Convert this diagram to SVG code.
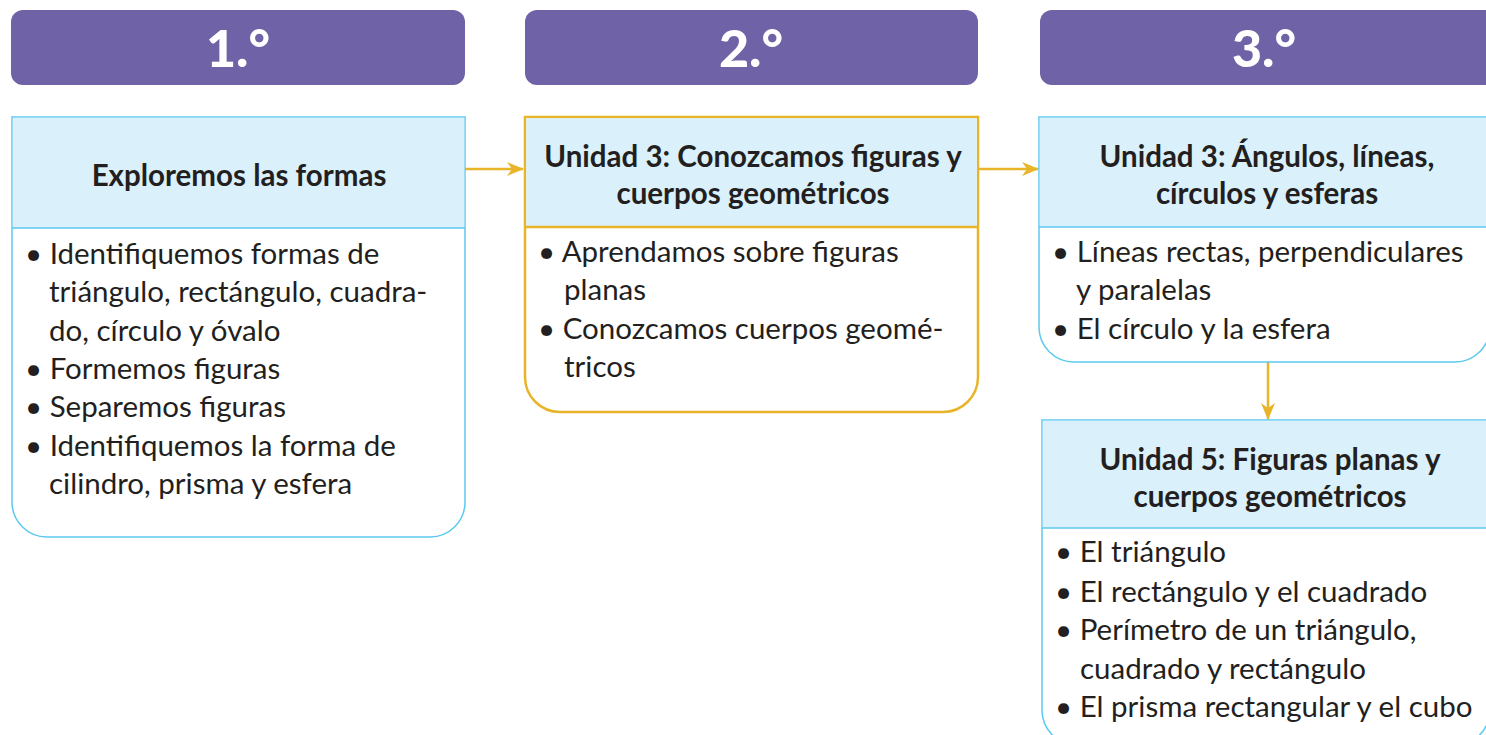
<svg xmlns="http://www.w3.org/2000/svg" width="1486" height="735" viewBox="0 0 1486 735">
<style>
.hdr{fill:#6F62A6}
.ht{font-family:Lato,"Open Sans",sans-serif;font-weight:900;font-size:52px;fill:#fff;text-anchor:middle}
.box{fill:#fff;stroke:#5CC9EF;stroke-width:1.5}
.boxg{fill:#fff;stroke:#E8B52A;stroke-width:2.5}
.hb{fill:#DAF0FB}
.t{font-family:Lato,"Liberation Sans",sans-serif;font-size:29.5px;fill:#231F20}
.b{font-weight:bold;text-anchor:middle;font-size:29.5px}
.c{fill:none;stroke:#E8B52A;stroke-width:2.5}
</style>
<defs>
<marker id="ah" markerWidth="17" markerHeight="14" refX="16" refY="7" orient="auto" markerUnits="userSpaceOnUse" viewBox="0 0 17 14">
<path d="M0,0 L17,7 L0,14 L5,7 z" fill="#E8B52A"/>
</marker>
</defs>
<g id="h1"><rect class="hdr" x="11" y="10" width="454" height="75" rx="12"/><text class="ht" x="238" y="67">1.°</text></g>
<g id="h2"><rect class="hdr" x="525" y="10" width="453" height="75" rx="12"/><text class="ht" x="751" y="67">2.°</text></g>
<g id="h3"><rect class="hdr" x="1040" y="10" width="470" height="75" rx="12"/><text class="ht" x="1264" y="67">3.°</text></g>

<g id="connectors">
<line class="c" x1="465" y1="169" x2="523" y2="169" marker-end="url(#ah)"/>
<line class="c" x1="979" y1="169" x2="1038" y2="169" marker-end="url(#ah)"/>
<line class="c" x1="1268" y1="362" x2="1268" y2="419" marker-end="url(#ah)"/>
</g>

<g id="n1">
<path class="box" d="M12,117 H465 V502 A35,35 0 0 1 430,537 H47 A35,35 0 0 1 12,502 Z"/>
<rect class="hb" x="12.75" y="117.75" width="451.5" height="110"/>
<line x1="12" y1="228" x2="465" y2="228" stroke="#5CC9EF" stroke-width="1.5"/>
<text class="t b" x="239" y="186">Exploremos las formas</text>
<text class="t" x="25" y="264">• Identifiquemos formas de</text>
<text class="t" x="49" y="302">triángulo, rectángulo, cuadra-</text>
<text class="t" x="49" y="341">do, círculo y óvalo</text>
<text class="t" x="25" y="379">• Formemos figuras</text>
<text class="t" x="25" y="417">• Separemos figuras</text>
<text class="t" x="25" y="456">• Identifiquemos la forma de</text>
<text class="t" x="49" y="494">cilindro, prisma y esfera</text>
</g>

<g id="n2">
<path class="boxg" d="M525,117 H978 V377 A35,35 0 0 1 943,412 H560 A35,35 0 0 1 525,377 Z"/>
<rect class="hb" x="526.25" y="118.25" width="450.5" height="108"/>
<line x1="525" y1="227" x2="978" y2="227" stroke="#E8B52A" stroke-width="2.5"/>
<text class="t b" x="753" y="167">Unidad 3: Conozcamos figuras y</text>
<text class="t b" x="753" y="204">cuerpos geométricos</text>
<text class="t" x="538" y="262">•  Aprendamos sobre figuras</text>
<text class="t" x="564" y="300">planas</text>
<text class="t" x="538" y="339">• Conozcamos cuerpos geomé-</text>
<text class="t" x="564" y="377">tricos</text>
</g>

<g id="n3">
<path class="box" d="M1039,117 H1490 V327 A35,35 0 0 1 1455,362 H1074 A35,35 0 0 1 1039,327 Z"/>
<rect class="hb" x="1039.75" y="117.75" width="449.5" height="109"/>
<line x1="1039" y1="227" x2="1490" y2="227" stroke="#5CC9EF" stroke-width="1.5"/>
<text class="t b" x="1267" y="167">Unidad 3: Ángulos, líneas,</text>
<text class="t b" x="1267" y="204">círculos y esferas</text>
<text class="t" x="1052" y="262">• Líneas rectas, perpendiculares</text>
<text class="t" x="1076" y="300">y paralelas</text>
<text class="t" x="1052" y="339">• El círculo y la esfera</text>
</g>

<g id="n4">
<path class="box" d="M1042,420 H1490 V710 A35,35 0 0 1 1455,745 H1077 A35,35 0 0 1 1042,710 Z"/>
<rect class="hb" x="1042.75" y="420.75" width="446.5" height="107"/>
<line x1="1042" y1="528" x2="1490" y2="528" stroke="#5CC9EF" stroke-width="1.5"/>
<text class="t b" x="1270" y="470">Unidad 5: Figuras planas y</text>
<text class="t b" x="1270" y="507">cuerpos geométricos</text>
<text class="t" x="1055" y="562">• El triángulo</text>
<text class="t" x="1055" y="602">• El rectángulo y el cuadrado</text>
<text class="t" x="1055" y="640">• Perímetro de un triángulo,</text>
<text class="t" x="1080" y="679">cuadrado y rectángulo</text>
<text class="t" x="1055" y="717">• El prisma rectangular y el cubo</text>
</g>
</svg>
